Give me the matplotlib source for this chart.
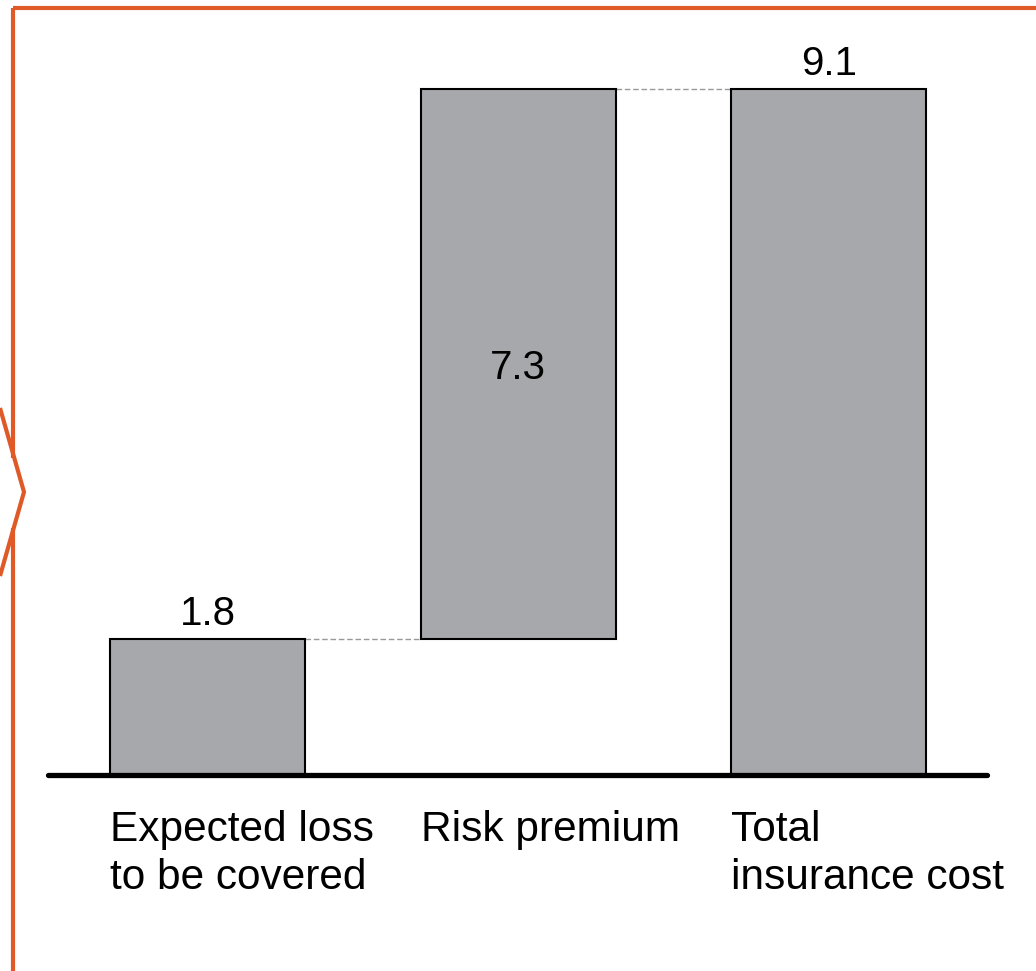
import matplotlib.pyplot as plt
from matplotlib.lines import Line2D

plt.rcParams['font.family'] = ['Liberation Sans', 'DejaVu Sans']

categories = ['Expected loss\nto be covered', 'Risk premium', 'Total\ninsurance cost']
values = [1.8, 7.3, 9.1]
is_total = [False, False, True]
value_labels = ['1.8', '7.3', '9.1']

# waterfall bottoms
bottoms = []
running = 0
for v, tot in zip(values, is_total):
    if tot:
        bottoms.append(0)
    else:
        bottoms.append(running)
        running += v

fig = plt.figure(figsize=(10.36, 9.71), dpi=100)
ax = fig.add_axes([48/1036, 196/971, (987-48)/1036, 755/971])

x = list(range(len(values)))
width = 0.628
ax.bar(x, values, width=width, bottom=bottoms, color='#a7a8ab', edgecolor='black', linewidth=1.5, zorder=2)

# dashed connectors
for i in range(len(values) - 1):
    level = bottoms[i] + values[i]
    ax.plot([x[i] + width/2, x[i+1] - width/2], [level, level], color='#999999',
            linestyle=(0, (4, 2)), linewidth=1, zorder=1)

# labels
for i, (v, b, lab) in enumerate(zip(values, bottoms, value_labels)):
    if b > 0:
        ax.text(x[i], b + v/2 - 0.05, lab, ha='center', va='center', fontsize=29)
    else:
        ax.text(x[i], b + v + 0.19, lab, ha='center', va='baseline', fontsize=29)

for i, c in enumerate(categories):
    ax.text(x[i] - width/2, -0.46, c, ha='left', va='top', fontsize=30.5, linespacing=1.28)

ax.set_xlim(-0.514, 2.51)
ax.set_ylim(0, 755/75.4)
for s in ['top', 'right', 'left']:
    ax.spines[s].set_visible(False)
ax.spines['bottom'].set_linewidth(3.8)
ax.spines['bottom'].set_capstyle('round')
ax.set_xticks([])
ax.set_yticks([])

# orange frame with chevron (figure pixels)
oc = '#e05a28'
W, H = 1036, 971
def px(xs, ys):
    return [xx / W for xx in xs], [1 - yy / H for yy in ys]
for xs, ys in [([13, 1036], [8, 8]), ([13, 13], [8, 458]), ([13, 13], [528, 971]),
               ([0, 24, 0], [408, 492, 576])]:
    fx, fy = px(xs, ys)
    fig.add_artist(Line2D(fx, fy, color=oc, linewidth=3, transform=fig.transFigure,
                          solid_capstyle='butt', solid_joinstyle='miter'))

fig.savefig('out.png', dpi=100)
